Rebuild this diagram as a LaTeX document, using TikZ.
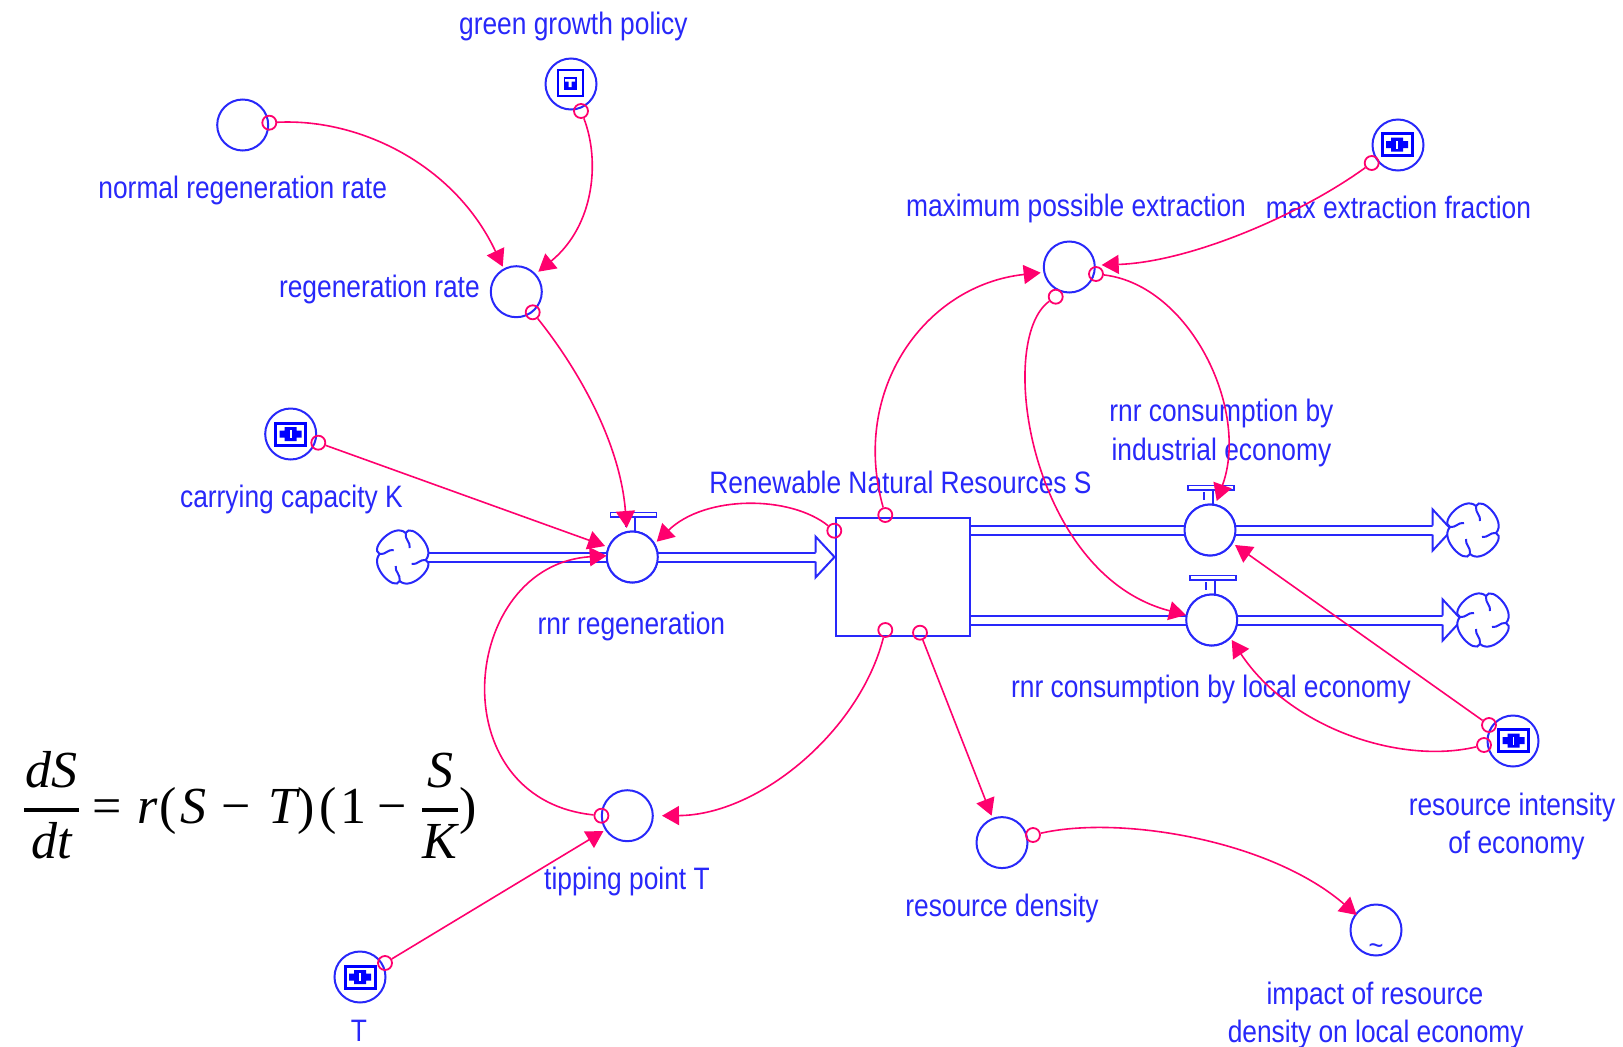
\documentclass[tikz,border=0pt]{standalone}
\usepackage[no-math]{fontspec}
\setmainfont[FakeStretch=0.85]{Liberation Sans}
\newfontfamily\eqfont{Liberation Serif}
\newcommand{\eqi}[1]{\hbox{\eqfont\itshape #1}}
\newcommand{\eqr}[1]{\hbox{\eqfont #1}}
\newcommand{\eqgap}[1]{\hskip #1pt}
\usetikzlibrary{arrows.meta}
\definecolor{sdblue}{RGB}{40,40,250}
\definecolor{sdpink}{RGB}{255,0,110}
\tikzset{
  x=1pt,y=-1pt,
  sdline/.style={draw=sdblue,line width=2pt},
  conv/.style={sdline,circle,fill=white,inner sep=0pt,minimum size=51pt},
  stockbox/.style={sdline,rectangle,fill=white,inner sep=0pt,minimum width=134pt,minimum height=118pt},
  cloudpt/.style={circle,inner sep=0pt,minimum size=46pt},
  link/.style={circle,draw=sdpink,line width=1.8pt,inner sep=0pt,minimum size=14pt},
  cause/.style={draw=sdpink,line width=1.6pt,-{Triangle[length=17pt,width=19pt]}},
  pipe/.style={draw=sdblue,line width=2pt,double=white,double distance=7pt},
  lab/.style={text=sdblue,font=\fontsize{31}{37}\selectfont,inner sep=0pt,align=center},
  swirl/.pic={
    \draw[sdline,fill=white] (3,-24) .. controls (8,-35) and (34,-9) .. (23,3)
      .. controls (34,8) and (9,35) .. (-3,24)
      .. controls (-8,35) and (-34,9) .. (-23,-3)
      .. controls (-34,-8) and (-9,-35) .. (3,-24) -- cycle;
    \draw[sdline] (3,-24) .. controls (2,-17) and (8,-15) .. (7,-9);
    \draw[sdline] (23,3) .. controls (17,2) and (15,8) .. (9,7);
    \draw[sdline] (-3,24) .. controls (-2,17) and (-8,15) .. (-7,9);
    \draw[sdline] (-23,-3) .. controls (-17,-2) and (-15,-8) .. (-9,-7);
  },
  valvetop/.pic={
    \draw[sdline,line width=1.6pt,fill=white] (-22,-44.5) rectangle (24,-40);
    \draw[sdline] (-6,-38) -- (-6,-30) (3,-40) -- (3,-26);
  },
  dialicon/.pic={
    \draw[draw=blue,line width=3pt,fill=white] (-15,-11) rectangle (15,11);
    \fill[blue] (-11,-3.5) rectangle (11,3.5) (-6,-7) rectangle (6,7);
    \fill[white] (-0.8,-4) rectangle (0.8,4);
  },
  switchicon/.pic={
    \draw[draw=blue,line width=1.8pt,fill=white] (-12,-13) rectangle (13,13);
    \fill[blue] (-6.5,-6.5) rectangle (6.5,7);
    \fill[white] (-5,-4) rectangle (5,-1.5) (-1.5,-4) rectangle (1.5,4);
  },
  openhead/.pic={
    \fill[white] (-19,-20.5) -- (0,0) -- (-19,20.5) -- cycle;
    \draw[sdline,line join=miter] (-19,-4.5) -- (-19,-20.5) -- (0,0) -- (-19,20.5) -- (-19,4.5);
  }
}
\begin{document}
\begin{tikzpicture}
\useasboundingbox[fill=white] (0,0) rectangle (1623,1047);

% clouds and flow points
\node[cloudpt] (cloudin) at (402.7,557) {};
\node[cloudpt] (cloudtop) at (1473,530) {};
\node[cloudpt] (cloudlow) at (1483,620) {};
\node[stockbox] (stock) at (902.5,577) {};
\node[conv] (regenvalve) at (632.3,557) {};
\node[conv] (topvalve) at (1210,530) {};
\node[conv] (lowvalve) at (1211.7,620) {};
\coordinate (stockin) at (stock.west |- regenvalve);
\coordinate (headtop) at (1451.7,530);
\coordinate (headlow) at (1461.7,620);

% pipes
\draw[pipe] (cloudin.center) -- (regenvalve.center);
\draw[pipe] (regenvalve.center) -- ([xshift=-19pt]stockin);
\draw[pipe] (stock.east |- topvalve) -- (topvalve.center);
\draw[pipe] (topvalve.center) -- ([xshift=-19pt]headtop);
\draw[pipe] (stock.east |- lowvalve) -- (lowvalve.center);
\draw[pipe] (lowvalve.center) -- ([xshift=-19pt]headlow);
\pic at (stockin) {openhead};
\pic at (headtop) {openhead};
\pic at (headlow) {openhead};
\pic at (cloudin) {swirl};
\pic at (cloudtop) {swirl};
\pic at (cloudlow) {swirl};

% stock and valves redrawn above the pipes
\node[stockbox] (stock) at (902.5,577) {};
\node[conv] (regenvalve) at (632.3,557) {};
\node[conv] (topvalve) at (1210,530) {};
\node[conv] (lowvalve) at (1211.7,620) {};
\pic at (regenvalve) {valvetop};
\pic at (topvalve) {valvetop};
\pic at (lowvalve) {valvetop};

% auxiliaries
\node[conv] (green) at (571,84) {};
\pic at (570,83) {switchicon};
\node[conv] (normal) at (242.7,125) {};
\node[conv] (regenrate) at (516.3,291.7) {};
\node[conv] (carry) at (290.7,434) {};
\pic at (290.7,434) {dialicon};
\node[conv] (maxposs) at (1069.3,267) {};
\node[conv] (maxfrac) at (1398,145) {};
\pic at (1397,144.5) {dialicon};
\node[conv] (intens) at (1513,741) {};
\pic at (1513.5,740.5) {dialicon};
\node[conv] (tip) at (627.3,815.7) {};
\node[conv] (density) at (1002,842.6) {};
\node[conv] (impact) at (1376,930) {};
\node[text=sdblue,font=\fontsize{30}{30}\selectfont,inner sep=0pt] at (1376,950) {\char`~};
\node[conv] (tval) at (360,977) {};
\pic at (360,977) {dialicon};

% labels
\node[lab] at (573.4,26) {green growth policy};
\node[lab] at (242.7,190.4) {normal regeneration rate};
\node[lab] at (379.4,289.7) {regeneration rate};
\node[lab] at (291.4,499) {carrying capacity K};
\node[lab] at (631.4,626) {rnr regeneration};
\node[lab] at (900.5,482.4) {Renewable Natural Resources S};
\node[lab] at (1076,208) {maximum possible extraction};
\node[lab] at (1398.5,207) {max extraction fraction};
\node[lab] at (1221.4,413) {rnr consumption by};
\node[lab] at (1221.4,452) {industrial economy};
\node[lab] at (1211,689) {rnr consumption by local economy};
\node[lab] at (1512,807) {resource intensity};
\node[lab] at (1516.4,845.6) {of economy};
\node[lab] at (627,881) {tipping point T};
\node[lab] at (1002,908.7) {resource density};
\node[lab] at (1375,996.7) {impact of resource};
\node[lab] at (1375.7,1034) {density on local economy};
\node[lab] at (359,1031) {T};

% equation
\node[inner sep=0pt,scale=5.2,anchor=base west] (eqn) at (23,823) {\nulldelimiterspace=0pt$\displaystyle
  {\hbox to 10.6pt{\hss\eqi{dS}\hss}\above 0.7pt \hbox to 10.6pt{\hss\eqi{dt}\hss}}
  \eqgap{2.5}\eqr{=}\eqgap{3.1}\eqi{r}\eqgap{0.4}\eqr{(}\eqgap{0.6}\eqi{S}\eqgap{2.9}\eqr{−}\eqgap{3.5}\eqi{T}\eqr{)}\eqgap{0.8}\eqr{(}\eqgap{0.8}\eqr{1}\eqgap{2.1}\eqr{−}\eqgap{2.9}
  {\hbox to 6.9pt{\hss\eqi{S}\hss}\above 0.7pt \hbox to 6.9pt{\hss\eqi{K}\hss}}
  \eqgap{0.2}\eqr{)}$};

% link origins
\node[link] (Lnormal) at (269.3,122.7) {};
\node[link] (Lgreen) at (581,111) {};
\node[link] (Lrate) at (532.7,312.3) {};
\node[link] (Lcarry) at (318.3,442.7) {};
\node[link] (Lsregen) at (834.3,530.7) {};
\node[link] (Lsmax) at (885.3,515) {};
\node[link] (Lstip) at (885.3,630) {};
\node[link] (Lsdens) at (920,632.7) {};
\node[link] (Lfrac) at (1371.7,163) {};
\node[link] (Lmaxa) at (1096,274) {};
\node[link] (Lmaxb) at (1055.7,296.7) {};
\node[link] (Linta) at (1489,725) {};
\node[link] (Lintb) at (1484,745) {};
\node[link] (Ltip) at (601.4,815.7) {};
\node[link] (Ldens) at (1033,835) {};
\node[link] (Lt) at (385,963) {};

% link targets
\coordinate (Trate1) at (502.7,266.7);
\coordinate (Trate2) at (538.3,271.7);
\coordinate (Tv1) at (626.7,528);
\coordinate (Tv2) at (605,546);
\coordinate (Tv3) at (606.7,555.7);
\coordinate (Tv4) at (656.7,541.7);
\coordinate (Tm1) at (1040.7,272.7);
\coordinate (Tm2) at (1101.7,265);
\coordinate (Tt1) at (1216.7,501);
\coordinate (Tt2) at (1235,545);
\coordinate (Tl1) at (1186,615);
\coordinate (Tl2) at (1231.7,640);
\coordinate (Ttp1) at (662,815.7);
\coordinate (Ttp2) at (603.5,831);
\coordinate (Td) at (991.6,815.7);
\coordinate (Ti) at (1356.7,915);

% connectors
\draw[cause] (Lnormal) .. controls (360,118) and (455,165) .. (Trate1);
\draw[cause] (Lgreen) .. controls (600,160) and (595,225) .. (Trate2);
\draw[cause] (Lrate) .. controls (575,365) and (620,440) .. (Tv1);
\draw[cause] (Lcarry) -- (Tv2);
\draw[cause] (Ltip) .. controls (438,799) and (460,565) .. (Tv3);
\draw[cause] (Lsregen) .. controls (790,495) and (705,495) .. (Tv4);
\draw[cause] (Lsmax) .. controls (850,390) and (925,285) .. (Tm1);
\draw[cause] (Lfrac) .. controls (1300,215) and (1190,262) .. (Tm2);
\draw[cause] (Lmaxa) .. controls (1190,285) and (1250,410) .. (Tt1);
\draw[cause] (Lmaxb) .. controls (995,340) and (1030,575) .. (Tl1);
\draw[cause] (Linta) -- (Tt2);
\draw[cause] (Lintb) .. controls (1400,765) and (1290,728) .. (Tl2);
\draw[cause] (Lstip) .. controls (860,730) and (760,815) .. (Ttp1);
\draw[cause] (Lsdens) -- (Td);
\draw[cause] (Ldens) .. controls (1120,815) and (1270,840) .. (Ti);
\draw[cause] (Lt) -- (Ttp2);
\end{tikzpicture}
\end{document}
